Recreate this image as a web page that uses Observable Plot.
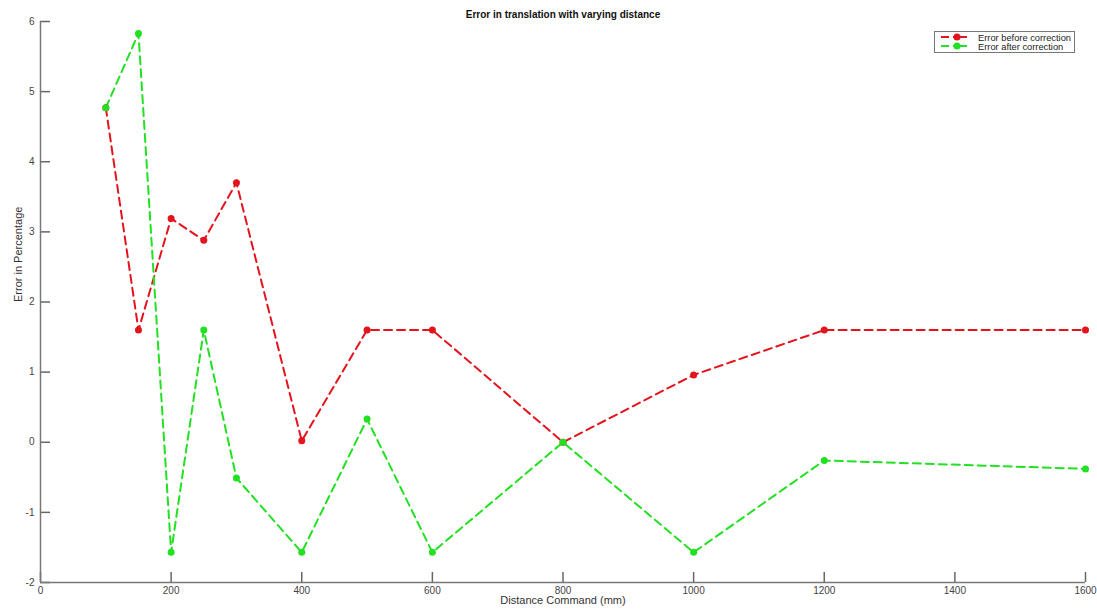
<!DOCTYPE html>
<html>
<head>
<meta charset="utf-8">
<script src="https://cdn.jsdelivr.net/npm/d3@7"></script>
<script src="https://cdn.jsdelivr.net/npm/@observablehq/plot@0.6"></script>
<style>
  html, body { margin: 0; padding: 0; background: #fff; }
  #wrap { position: relative; width: 1097px; height: 610px; font-family: "Liberation Sans", Arial, sans-serif; }
  #legend { position: absolute; left: 934px; top: 31px; width: 141px; height: 22px; border: 1px solid #777; background: #fff; box-sizing: border-box; }
</style>
</head>
<body>
<div id="wrap"></div>
<script>
const distances = [100, 150, 200, 250, 300, 400, 500, 600, 800, 1000, 1200, 1600];
const errorBefore = [4.77, 1.60, 3.19, 2.88, 3.70, 0.02, 1.60, 1.60, 0.00, 0.96, 1.60, 1.60];
const errorAfter = [4.77, 5.83, -1.57, 1.60, -0.51, -1.57, 0.33, -1.57, 0.00, -1.57, -0.26, -0.38];
const seriesNames = ["Error before correction", "Error after correction"];
const seriesColors = ["#e3141c", "#22e022"];
const xTicks = [0, 200, 400, 600, 800, 1000, 1200, 1400, 1600];
const yTicks = [-2, -1, 0, 1, 2, 3, 4, 5, 6];

const data = [];
distances.forEach((d, i) => {
  data.push({x: d, y: errorBefore[i], s: seriesNames[0]});
});
distances.forEach((d, i) => {
  data.push({x: d, y: errorAfter[i], s: seriesNames[1]});
});

const W = 1097, H = 610, mT = 21, mB = 28, mL = 40, mR = 12;
const frameW = W - mL - mR, frameH = H - mT - mB;

const chart = Plot.plot({
  width: W,
  height: H,
  marginTop: mT,
  marginBottom: mB,
  marginLeft: mL,
  marginRight: mR,
  style: {fontFamily: "Liberation Sans, Arial, sans-serif", fontSize: "10px", background: "#fff"},
  x: {domain: [0, 1600], ticks: xTicks},
  y: {domain: [-2, 6], ticks: yTicks},
  color: {domain: seriesNames, range: seriesColors},
  marks: [
    Plot.axisX({ticks: xTicks, tickSize: 0, tickPadding: 4, tickFormat: d => String(d), fill: "#444", label: null}),
    Plot.axisY({ticks: yTicks, tickSize: 0, tickPadding: 6, tickFormat: d => String(d), fill: "#444", label: null}),
    Plot.ruleX(xTicks, {insetTop: frameH - 10, stroke: "#666", strokeWidth: 1.5}),
    Plot.ruleY(yTicks, {insetRight: frameW - 10, stroke: "#666", strokeWidth: 1.5}),
    Plot.ruleY([-2], {stroke: "#777", strokeWidth: 1.5}),
    Plot.ruleX([0], {stroke: "#777", strokeWidth: 1.5}),
    Plot.line(data, {x: "x", y: "y", z: "s", stroke: "s", strokeWidth: 2, strokeDasharray: "8,5"}),
    Plot.dot(data, {x: "x", y: "y", fill: "s", r: 3.5}),
    Plot.text(["Error in translation with varying distance"], {frameAnchor: "top", dy: -11, fontWeight: "bold", fontSize: 10, fill: "#111"}),
    Plot.text(["Distance Command (mm)"], {frameAnchor: "bottom", dy: 21, fontSize: 11, fill: "#333"}),
    Plot.text(["Error in Percentage"], {frameAnchor: "left", dx: -22, rotate: -90, fontSize: 11, fill: "#333"})
  ]
});

const wrap = document.getElementById("wrap");
wrap.appendChild(chart);

// legend overlay
const legend = document.createElement("div");
legend.id = "legend";
const ns = "http://www.w3.org/2000/svg";
const svg = document.createElementNS(ns, "svg");
svg.setAttribute("width", 139);
svg.setAttribute("height", 20);
svg.style.display = "block";
seriesNames.forEach((name, i) => {
  const cy = 5 + i * 9;
  const line = document.createElementNS(ns, "line");
  line.setAttribute("x1", 6); line.setAttribute("x2", 32);
  line.setAttribute("y1", cy); line.setAttribute("y2", cy);
  line.setAttribute("stroke", seriesColors[i]);
  line.setAttribute("stroke-width", 2);
  line.setAttribute("stroke-dasharray", "8,4,14");
  svg.appendChild(line);
  const c = document.createElementNS(ns, "circle");
  c.setAttribute("cx", 22); c.setAttribute("cy", cy); c.setAttribute("r", 3.5);
  c.setAttribute("fill", seriesColors[i]);
  svg.appendChild(c);
  const t = document.createElementNS(ns, "text");
  t.setAttribute("x", 43); t.setAttribute("y", cy + 3.5);
  t.setAttribute("font-size", "9.3px");
  t.setAttribute("font-family", "Liberation Sans, Arial, sans-serif");
  t.setAttribute("fill", "#222");
  t.textContent = name;
  svg.appendChild(t);
});
legend.appendChild(svg);
wrap.appendChild(legend);
</script>
</body>
</html>
